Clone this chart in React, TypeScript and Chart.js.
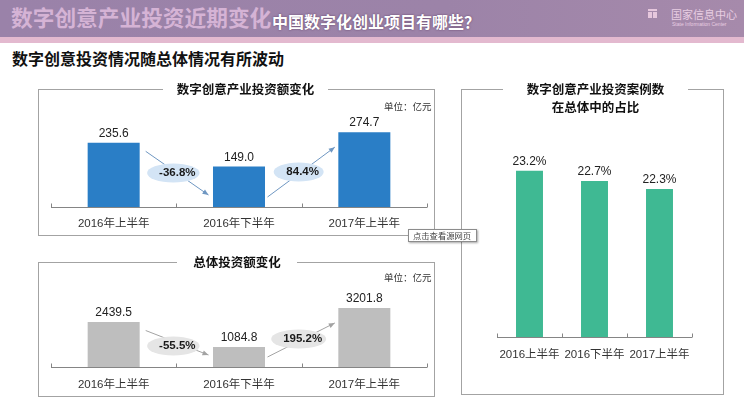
import React, { useEffect, useRef } from "react";
import { Chart, registerables } from "chart.js";

Chart.register(...registerables);

// ---- data ----
const periods = ["2016年上半年", "2016年下半年", "2017年上半年"];
const digitalInvestment = [235.6, 149.0, 274.7];
const digitalChange = ["-36.8%", "84.4%"];
const totalInvestment = [2439.5, 1084.8, 3201.8];
const totalChange = ["-55.5%", "195.2%"];
const sharePeriods = ["2016上半年", "2016下半年", "2017上半年"];
const caseShare = [23.2, 22.7, 22.3];

const LATIN = "'Liberation Sans', Arial, 'Noto Sans CJK SC', sans-serif";
const CJK = "'Noto Sans CJK SC', 'Liberation Sans', sans-serif";

const overlay = {
  id: "overlay",
  afterDatasetsDraw(chart: any, _a: any, o: any) {
    const ctx = chart.ctx;
    const area = chart.chartArea;
    const bars = chart.getDatasetMeta(0).data;
    const vals = chart.data.datasets[0].data as number[];
    const n = bars.length;
    const base = area.bottom;
    ctx.save();
    // axis line + small upward boundary ticks
    ctx.strokeStyle = "#858585";
    ctx.lineWidth = 1;
    const yb = Math.round(base) + 0.5;
    ctx.beginPath();
    ctx.moveTo(area.left, yb);
    ctx.lineTo(area.right, yb);
    ctx.stroke();
    for (let i = 0; i <= n; i++) {
      const x = Math.round(area.left + (i * (area.right - area.left)) / n) + 0.5;
      ctx.beginPath();
      ctx.moveTo(x, yb - 4);
      ctx.lineTo(x, yb);
      ctx.stroke();
    }
    // value labels
    ctx.fillStyle = "#222";
    ctx.font = `12px ${LATIN}`;
    ctx.textAlign = "center";
    ctx.textBaseline = "middle";
    bars.forEach((b: any, i: number) => ctx.fillText(o.fmt(vals[i]), b.x, b.y - 9));
    // change arrows + ellipses
    const changes: string[] = o.changes || [];
    changes.forEach((label, i) => {
      const a = bars[i];
      const b = bars[i + 1];
      const aR = a.x + a.width / 2;
      const bL = b.x - b.width / 2;
      let x1, y1, x2, y2;
      if (vals[i + 1] < vals[i]) {
        x1 = aR + 6; y1 = a.y + 8.5; x2 = bL - 4.5; y2 = base - 12;
      } else {
        x1 = aR + 2.5; y1 = base - 10; x2 = bL - 3.5; y2 = b.y + 15;
      }
      ctx.strokeStyle = o.arrow;
      ctx.fillStyle = o.arrow;
      ctx.lineWidth = 1;
      ctx.beginPath();
      ctx.moveTo(x1, y1);
      ctx.lineTo(x2, y2);
      ctx.stroke();
      const ang = Math.atan2(y2 - y1, x2 - x1);
      const c = Math.cos(ang), s = Math.sin(ang);
      ctx.beginPath();
      ctx.moveTo(x2, y2);
      ctx.lineTo(x2 - 6 * c + 2.5 * s, y2 - 6 * s - 2.5 * c);
      ctx.lineTo(x2 - 6 * c - 2.5 * s, y2 - 6 * s + 2.5 * c);
      ctx.closePath();
      ctx.fill();
      const bx = area.left + ((i + 1) * (area.right - area.left)) / n;
      const cy = base - o.rise[i];
      ctx.font = `bold 11.5px ${LATIN}`;
      const tw = ctx.measureText(label).width;
      const ew = Math.max(tw + 16, 50);
      ctx.fillStyle = o.ellipse;
      ctx.beginPath();
      ctx.ellipse(bx - 3, cy, ew / 2, 9.5, 0, 0, Math.PI * 2);
      ctx.fill();
      ctx.fillStyle = "#1a1a1a";
      ctx.fillText(label, bx + 1, cy);
    });
    ctx.restore();
  },
};

type BarProps = {
  left: number; top: number; width: number; height: number;
  labels: string[]; values: number[]; color: string;
  min: number; max: number;
  padding: { left: number; right: number; top: number; bottom: number };
  tickPad: number; barPct: number; overlayOpts: any;
};

function BarChart(p: BarProps) {
  const ref = useRef<HTMLCanvasElement>(null);
  useEffect(() => {
    const chart = new Chart(ref.current!, {
      type: "bar",
      data: {
        labels: p.labels,
        datasets: [{ data: p.values, backgroundColor: p.color, barPercentage: p.barPct, categoryPercentage: 1 }],
      },
      options: {
        responsive: false,
        maintainAspectRatio: false,
        animation: false,
        layout: { padding: p.padding },
        plugins: {
          legend: { display: false },
          tooltip: { enabled: false },
          overlay: p.overlayOpts,
        } as any,
        scales: {
          x: {
            grid: { display: false, drawTicks: false },
            border: { display: false },
            ticks: {
              color: "#333",
              font: { family: LATIN, size: 11.5 },
              padding: p.tickPad,
              maxRotation: 0,
              autoSkip: false,
            },
            afterFit: (s: any) => { s.height = 30; },
          },
          y: { display: false, min: p.min, max: p.max },
        },
      },
      plugins: [overlay as any],
    });
    return () => chart.destroy();
  }, []);
  return (
    <canvas
      ref={ref}
      width={p.width}
      height={p.height}
      style={{ position: "absolute", left: p.left, top: p.top, width: p.width, height: p.height }}
    />
  );
}

const abs = (o: React.CSSProperties): React.CSSProperties => ({ position: "absolute", ...o });

export default function App() {
  const boxBorder = "1px solid #a3a3a3";
  const titleStyle: React.CSSProperties = {
    background: "#fff",
    textAlign: "center",
    fontWeight: 700,
    fontSize: 12.5,
    color: "#111",
    whiteSpace: "nowrap",
  };
  const unitStyle: React.CSSProperties = { fontSize: 9.5, color: "#333", lineHeight: "12px", whiteSpace: "nowrap" };
  return (
    <div style={abs({ left: 0, top: 0, width: 744, height: 400, overflow: "hidden", background: "#fff", fontFamily: CJK })}>
      {/* header */}
      <div style={abs({ left: 0, top: 0, width: 744, height: 37, background: "linear-gradient(90deg,#9a82a9 0%,#9c83a8 60%,#a68aab 100%)" })} />
      <div style={abs({ left: 0, top: 37, width: 744, height: 6, background: "#e3b9cf" })} />
      <div style={abs({ left: 11, top: 6, fontSize: 21.7, lineHeight: "22px", fontWeight: 700, color: "#d5b3d5", whiteSpace: "nowrap" })}>
        数字创意产业投资近期变化
      </div>
      <div style={abs({ left: 272, top: 13, fontSize: 16, lineHeight: "16px", fontWeight: 700, color: "#fff", whiteSpace: "nowrap", textShadow: "0 0 2px rgba(70,30,70,0.7)" })}>
        中国数字化创业项目有哪些？
      </div>
      <div style={abs({ left: 648, top: 9, width: 9, height: 9, background: "#e6c7dd" })}>
        <div style={abs({ left: 4, top: 2, width: 1, height: 7, background: "#a58aac" })} />
        <div style={abs({ left: 0, top: 2, width: 9, height: 1, background: "#a58aac" })} />
      </div>
      <div style={abs({ left: 671, top: 8, fontSize: 11, lineHeight: "12px", color: "#e8cde2", whiteSpace: "nowrap" })}>
        国家信息中心
      </div>
      <div style={abs({ left: 672, top: 21, fontSize: 5, lineHeight: "6px", color: "#e8cde2", whiteSpace: "nowrap", fontFamily: LATIN })}>
        State Information Center
      </div>
      {/* subtitle */}
      <div style={abs({ left: 12, top: 50, fontSize: 16, lineHeight: "16px", fontWeight: 700, color: "#111", whiteSpace: "nowrap" })}>
        数字创意投资情况随总体情况有所波动
      </div>

      {/* boxes */}
      <div style={abs({ left: 38, top: 89, width: 397, height: 147, border: boxBorder, boxSizing: "border-box" })} />
      <div style={abs({ left: 38, top: 262, width: 397, height: 135, border: boxBorder, boxSizing: "border-box" })} />
      <div style={abs({ left: 461, top: 89, width: 263, height: 306, border: boxBorder, boxSizing: "border-box" })} />

      {/* charts */}
      <BarChart
        left={38} top={89} width={398} height={148}
        labels={periods} values={digitalInvestment} color="#2a7ec6"
        min={0} max={400}
        padding={{ left: 13, right: 9, top: 9, bottom: 0 }}
        tickPad={10} barPct={0.415}
        overlayOpts={{ fmt: (v: number) => v.toFixed(1), changes: digitalChange, rise: [34, 35], arrow: "#6f97c2", ellipse: "#d3e4f5" }}
      />
      <BarChart
        left={38} top={262} width={398} height={135}
        labels={periods} values={totalInvestment} color="#bebebe"
        min={0} max={4500}
        padding={{ left: 13, right: 9, top: 22, bottom: 0 }}
        tickPad={11} barPct={0.415}
        overlayOpts={{ fmt: (v: number) => v.toFixed(1), changes: totalChange, rise: [21, 28], arrow: "#a3a3a3", ellipse: "#e5e5e5" }}
      />
      <BarChart
        left={461} top={89} width={263} height={306}
        labels={sharePeriods} values={caseShare} color="#3fb993"
        min={15} max={26}
        padding={{ left: 36, right: 32, top: 25, bottom: 27.7 }}
        tickPad={11} barPct={0.415}
        overlayOpts={{ fmt: (v: number) => v.toFixed(1) + "%" }}
      />

      {/* panel titles */}
      <div style={abs({ left: 163, top: 80, width: 165, height: 17, lineHeight: "17px", ...titleStyle })}>数字创意产业投资额变化</div>
      <div style={abs({ left: 177, top: 253, width: 120, height: 17, lineHeight: "17px", ...titleStyle })}>总体投资额变化</div>
      <div style={abs({ left: 503, top: 80, width: 185, lineHeight: "17.7px", ...titleStyle })}>
        数字创意产业投资案例数
        <br />
        在总体中的占比
      </div>

      {/* units */}
      <div style={abs({ left: 384, top: 100, ...unitStyle })}>单位：亿元</div>
      <div style={abs({ left: 384, top: 271, ...unitStyle })}>单位：亿元</div>

      {/* tooltip-like label */}
      <div style={abs({ left: 408, top: 229, width: 69, height: 13, boxSizing: "border-box", border: "1px solid #8c8c8c", background: "#fff", boxShadow: "1px 1px 2px rgba(0,0,0,0.35)", fontSize: 8.3, lineHeight: "11px", color: "#444", paddingLeft: 4, whiteSpace: "nowrap" })}>
        点击查看源网页
      </div>
    </div>
  );
}
